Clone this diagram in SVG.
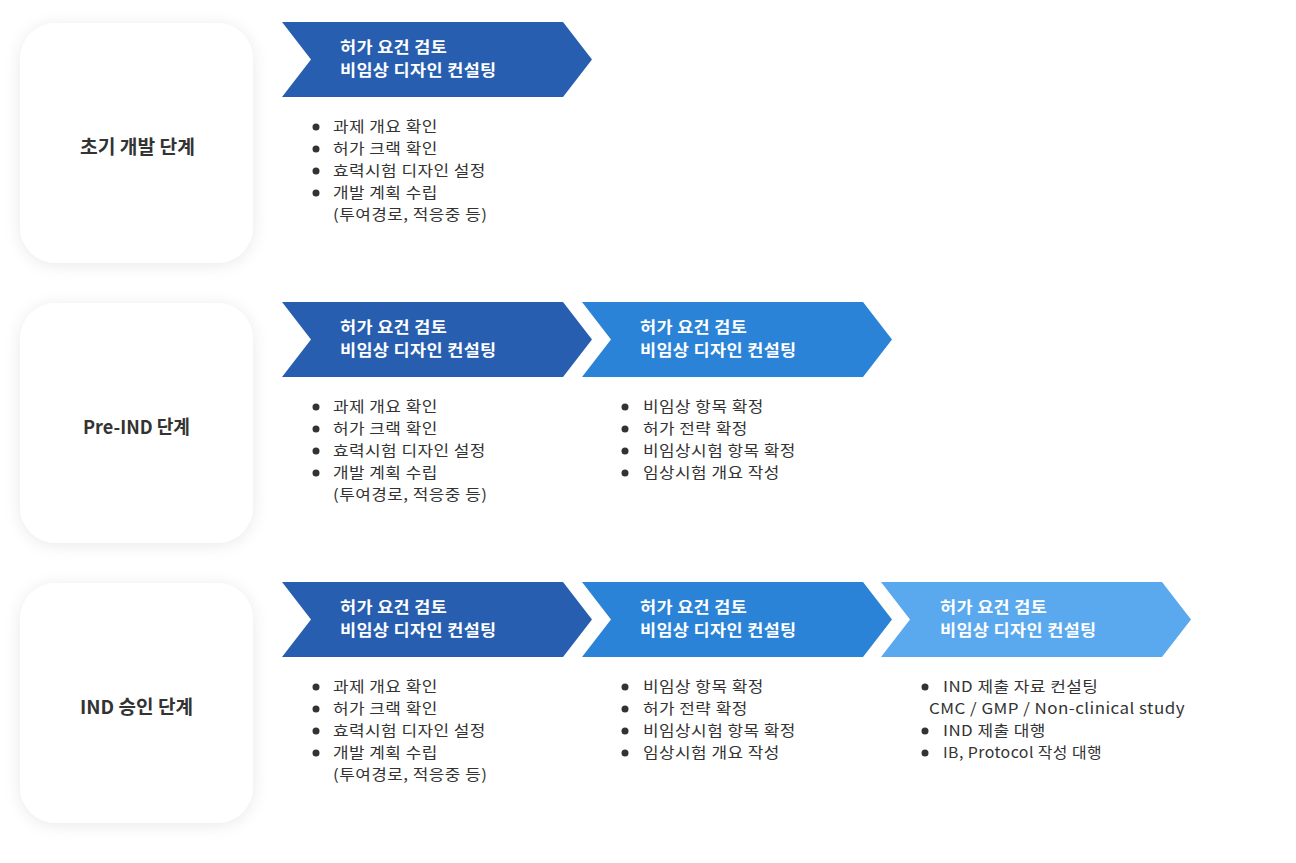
<svg xmlns="http://www.w3.org/2000/svg" width="1296" height="863" viewBox="0 0 1296 863">
<defs>
<filter id="sh" x="-20%" y="-20%" width="140%" height="140%">
<feDropShadow dx="0" dy="2" stdDeviation="8" flood-color="#000" flood-opacity="0.09"/>
</filter>
<polygon id="chev" points="0,0 281,0 310,37.5 281,75 0,75 29,37.5"/>
</defs>
<style>
text{font-family:"Noto Sans CJK KR","Noto Sans",sans-serif;}
.card{fill:#fff;filter:url(#sh);}
.lbl{font-size:19px;font-weight:bold;fill:#333;}
.ct{font-size:15.5px;font-weight:bold;fill:#fff;letter-spacing:0.3px;}
.li{font-size:15px;fill:#333;letter-spacing:0.4px;}
.dot{fill:#333;}
.c1{fill:#275eb0;}
.c2{fill:#2a83d6;}
.c3{fill:#5aa9ef;}
</style>
<rect width="1296" height="863" fill="#fff"/>

<!-- Row 1 -->
<g id="card1"><rect class="card" x="20" y="23" width="233" height="240" rx="36"/><text class="lbl" x="80" y="154" textLength="115" lengthAdjust="spacingAndGlyphs">초기 개발 단계</text></g>
<g id="r1c1">
<use href="#chev" class="c1" x="282" y="22"/>
<g transform="translate(340,0) scale(1.13,1)">
<text class="ct" x="0" y="53">허가 요건 검토</text>
<text class="ct" x="0" y="76">비임상 디자인 컨설팅</text>
</g>
<circle class="dot" cx="316" cy="127" r="3.5"/><circle class="dot" cx="316" cy="149" r="3.5"/><circle class="dot" cx="316" cy="171" r="3.5"/><circle class="dot" cx="316" cy="193" r="3.5"/>
<g transform="translate(333,0) scale(1.13,1)">
<text class="li" x="0" y="132">과제 개요 확인</text>
<text class="li" x="0" y="154">허가 크랙 확인</text>
<text class="li" x="0" y="176">효력시험 디자인 설정</text>
<text class="li" x="0" y="198">개발 계획 수립</text>
<text class="li" x="0" y="220">(투여경로, 적응중 등)</text>
</g>
</g>

<!-- Row 2 -->
<g id="card2"><rect class="card" x="20" y="303" width="233" height="240" rx="36"/><text class="lbl" x="83" y="434" textLength="107" lengthAdjust="spacingAndGlyphs">Pre-IND 단계</text></g>
<g id="r2c1">
<use href="#chev" class="c1" x="282" y="302"/>
<g transform="translate(340,0) scale(1.13,1)">
<text class="ct" x="0" y="333">허가 요건 검토</text>
<text class="ct" x="0" y="356">비임상 디자인 컨설팅</text>
</g>
<circle class="dot" cx="316" cy="407" r="3.5"/><circle class="dot" cx="316" cy="429" r="3.5"/><circle class="dot" cx="316" cy="451" r="3.5"/><circle class="dot" cx="316" cy="473" r="3.5"/>
<g transform="translate(333,0) scale(1.13,1)">
<text class="li" x="0" y="412">과제 개요 확인</text>
<text class="li" x="0" y="434">허가 크랙 확인</text>
<text class="li" x="0" y="456">효력시험 디자인 설정</text>
<text class="li" x="0" y="478">개발 계획 수립</text>
<text class="li" x="0" y="500">(투여경로, 적응중 등)</text>
</g>
</g>
<g id="r2c2">
<use href="#chev" class="c2" x="582" y="302"/>
<g transform="translate(640,0) scale(1.13,1)">
<text class="ct" x="0" y="333">허가 요건 검토</text>
<text class="ct" x="0" y="356">비임상 디자인 컨설팅</text>
</g>
<circle class="dot" cx="625" cy="407" r="3.5"/><circle class="dot" cx="625" cy="429" r="3.5"/><circle class="dot" cx="625" cy="451" r="3.5"/><circle class="dot" cx="625" cy="473" r="3.5"/>
<g transform="translate(643,0) scale(1.13,1)">
<text class="li" x="0" y="412">비임상 항목 확정</text>
<text class="li" x="0" y="434">허가 전략 확정</text>
<text class="li" x="0" y="456">비임상시험 항목 확정</text>
<text class="li" x="0" y="478">임상시험 개요 작성</text>
</g>
</g>

<!-- Row 3 -->
<g id="card3"><rect class="card" x="20" y="583" width="233" height="240" rx="36"/><text class="lbl" x="80" y="714" textLength="113" lengthAdjust="spacingAndGlyphs">IND 승인 단계</text></g>
<g id="r3c1">
<use href="#chev" class="c1" x="282" y="582"/>
<g transform="translate(340,0) scale(1.13,1)">
<text class="ct" x="0" y="613">허가 요건 검토</text>
<text class="ct" x="0" y="636">비임상 디자인 컨설팅</text>
</g>
<circle class="dot" cx="316" cy="687" r="3.5"/><circle class="dot" cx="316" cy="709" r="3.5"/><circle class="dot" cx="316" cy="731" r="3.5"/><circle class="dot" cx="316" cy="753" r="3.5"/>
<g transform="translate(333,0) scale(1.13,1)">
<text class="li" x="0" y="692">과제 개요 확인</text>
<text class="li" x="0" y="714">허가 크랙 확인</text>
<text class="li" x="0" y="736">효력시험 디자인 설정</text>
<text class="li" x="0" y="758">개발 계획 수립</text>
<text class="li" x="0" y="780">(투여경로, 적응중 등)</text>
</g>
</g>
<g id="r3c2">
<use href="#chev" class="c2" x="582" y="582"/>
<g transform="translate(640,0) scale(1.13,1)">
<text class="ct" x="0" y="613">허가 요건 검토</text>
<text class="ct" x="0" y="636">비임상 디자인 컨설팅</text>
</g>
<circle class="dot" cx="625" cy="687" r="3.5"/><circle class="dot" cx="625" cy="709" r="3.5"/><circle class="dot" cx="625" cy="731" r="3.5"/><circle class="dot" cx="625" cy="753" r="3.5"/>
<g transform="translate(643,0) scale(1.13,1)">
<text class="li" x="0" y="692">비임상 항목 확정</text>
<text class="li" x="0" y="714">허가 전략 확정</text>
<text class="li" x="0" y="736">비임상시험 항목 확정</text>
<text class="li" x="0" y="758">임상시험 개요 작성</text>
</g>
</g>
<g id="r3c3">
<use href="#chev" class="c3" x="881" y="582"/>
<g transform="translate(940,0) scale(1.13,1)">
<text class="ct" x="0" y="613">허가 요건 검토</text>
<text class="ct" x="0" y="636">비임상 디자인 컨설팅</text>
</g>
<circle class="dot" cx="925" cy="687" r="3.5"/><circle class="dot" cx="925" cy="731" r="3.5"/><circle class="dot" cx="925" cy="753" r="3.5"/>
<g transform="translate(943,0) scale(1.13,1)">
<text class="li" x="0" y="692">IND 제출 자료 컨설팅</text>
<text class="li" x="-12.4" y="714" textLength="226.5" lengthAdjust="spacingAndGlyphs">CMC / GMP / Non-clinical study</text>
<text class="li" x="0" y="736">IND 제출 대행</text>
<text class="li" x="0" y="758" textLength="140.7" lengthAdjust="spacingAndGlyphs">IB, Protocol 작성 대행</text>
</g>
</g>
<g id="connectors"></g>
</svg>
